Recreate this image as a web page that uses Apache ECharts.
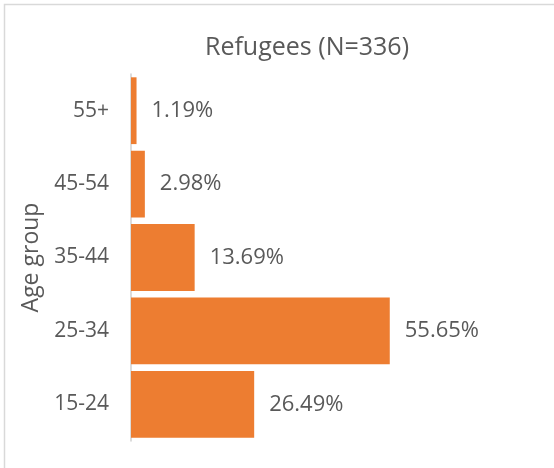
<!DOCTYPE html>
<html>
<head>
<meta charset="utf-8">
<script src="https://cdn.jsdelivr.net/npm/echarts@6/dist/echarts.min.js"></script>
<style>
  html, body { margin: 0; padding: 0; background: #ffffff; }
  #chart { width: 554px; height: 468px; }
</style>
</head>
<body>
<div id="chart"></div>
<script>
// Age group shares of refugees, bottom to top
const ageGroups = ['15-24', '25-34', '35-44', '45-54', '55+'];
const sharePercent = [26.49, 55.65, 13.69, 2.98, 1.19];
const chartTitle = 'Refugees (N=336)';
const axisTitle = 'Age group';

const textColor = '#595959';
const barColor = '#ed7d31';
const fontFamily = '"Open Sans", sans-serif';

const chart = echarts.init(document.getElementById('chart'));
chart.setOption({
  animation: false,
  textStyle: { fontFamily: fontFamily },
  title: {
    text: chartTitle,
    left: 302,
    top: 30,
    textAlign: 'center',
    textStyle: { color: textColor, fontSize: 25, fontWeight: 'normal', fontFamily: fontFamily }
  },
  graphic: [{
    type: 'rect',
    shape: { x: 4.5, y: 4.5, width: 700, height: 700 },
    style: { fill: 'none', stroke: '#d9d9d9', lineWidth: 1.5 },
    silent: true,
    z: -1
  }],
  grid: { left: 131, top: 74, width: 279, height: 367, containLabel: false },
  xAxis: {
    type: 'value',
    min: 0,
    max: 60,
    show: false
  },
  yAxis: {
    type: 'category',
    data: ageGroups,
    name: axisTitle,
    nameLocation: 'middle',
    nameGap: 88,
    nameRotate: 90,
    nameTextStyle: { color: textColor, fontSize: 23, fontFamily: fontFamily },
    axisLine: { show: true, lineStyle: { color: '#d0d0d0', width: 1.5 } },
    axisTick: { show: false },
    axisLabel: { color: textColor, fontSize: 21, margin: 22, fontFamily: fontFamily }
  },
  series: [{
    type: 'bar',
    data: sharePercent,
    barCategoryGap: '9%',
    itemStyle: { color: barColor },
    label: {
      show: true,
      position: 'right',
      distance: 15,
      color: textColor,
      fontSize: 22,
      fontFamily: fontFamily,
      formatter: p => p.value.toFixed(2) + '%'
    }
  }]
});
</script>
</body>
</html>
